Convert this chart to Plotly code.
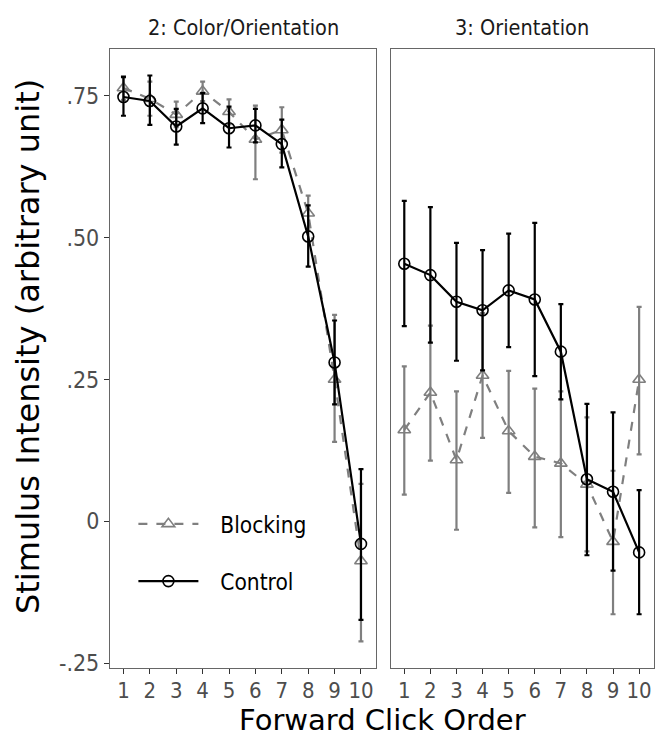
import plotly.graph_objects as go

clicks = list(range(1, 11))
x_tick_labels = [str(c) for c in clicks]
panels = ["2: Color/Orientation", "3: Orientation"]

# Panel 2: Color/Orientation
co_control = [0.748, 0.741, 0.696, 0.728, 0.693, 0.698, 0.665, 0.502, 0.280, -0.040]
co_control_hi = [0.783, 0.786, 0.727, 0.755, 0.731, 0.727, 0.708, 0.557, 0.354, 0.092]
co_control_lo = [0.715, 0.699, 0.664, 0.702, 0.659, 0.668, 0.624, 0.449, 0.206, -0.174]
co_block = [0.764, 0.745, 0.717, 0.758, 0.722, 0.673, 0.690, 0.543, 0.250, -0.070]
co_block_hi = [0.785, 0.775, 0.740, 0.775, 0.744, 0.733, 0.730, 0.574, 0.364, 0.066]
co_block_lo = [0.743, 0.715, 0.695, 0.741, 0.700, 0.603, 0.650, 0.512, 0.140, -0.212]

# Panel 3: Orientation
or_control = [0.454, 0.434, 0.387, 0.372, 0.407, 0.391, 0.299, 0.074, 0.052, -0.055]
or_control_hi = [0.565, 0.554, 0.491, 0.478, 0.507, 0.526, 0.383, 0.207, 0.192, 0.055]
or_control_lo = [0.344, 0.315, 0.283, 0.266, 0.307, 0.256, 0.215, -0.060, -0.087, -0.164]
or_block = [0.161, 0.227, 0.108, 0.257, 0.159, 0.114, 0.102, 0.065, -0.036, 0.250]
or_block_hi = [0.273, 0.345, 0.229, 0.367, 0.265, 0.234, 0.229, 0.183, 0.089, 0.378]
or_block_lo = [0.047, 0.107, -0.015, 0.147, 0.050, -0.011, -0.028, -0.053, -0.164, 0.118]

y_tick_vals = [-0.25, 0, 0.25, 0.50, 0.75]
y_tick_text = ["-.25", "0", ".25", ".50", ".75"]

GREY = "#7f7f7f"
BLACK = "#000000"
FONT = "DejaVu Sans"
CFONT = "DejaVu Sans Condensed, DejaVu Sans"

fig = go.Figure()

def add_series(x, y, hi, lo, xa, ya, name, color, dash, symbol, show):
    fig.add_trace(go.Scatter(
        x=x, y=y, xaxis=xa, yaxis=ya, name="\u00a0\u00a0\u2009" + name, legendgroup=name,
        showlegend=show, mode="lines+markers",
        line=dict(color=color, width=2.2, dash=dash),
        marker=dict(symbol=symbol, size=11, color=color,
                    line=dict(color=color, width=1.6)),
        error_y=dict(type="data", symmetric=False,
                     array=[h - v for h, v in zip(hi, y)],
                     arrayminus=[v - l for v, l in zip(y, lo)],
                     color=color, thickness=2.2, width=2.5),
    ))

add_series(clicks, co_block, co_block_hi, co_block_lo, "x", "y", "Blocking", GREY, "dash", "triangle-up-open", True)
add_series(clicks, co_control, co_control_hi, co_control_lo, "x", "y", "Control", BLACK, "solid", "circle-open", True)
add_series(clicks, or_block, or_block_hi, or_block_lo, "x2", "y2", "Blocking", GREY, "dash", "triangle-up-open", False)
add_series(clicks, or_control, or_control_hi, or_control_lo, "x2", "y2", "Control", BLACK, "solid", "circle-open", False)

xrange = [0.49, 10.57]
yrange = [-0.2588, 0.8327]
axis_common = dict(showgrid=False, zeroline=False, showline=True, mirror=True,
                   linecolor="#666666", linewidth=1.2, ticks="outside",
                   ticklen=5, tickwidth=1.3, tickcolor="#333333")
xtickfont = dict(family=CFONT, size=22, color="#4d4d4d")
ytickfont = dict(family=CFONT, size=23, color="#4d4d4d")

fig.update_layout(
    width=657, height=738,
    margin=dict(l=110, r=3, t=49, b=70),
    plot_bgcolor="white", paper_bgcolor="white",
    font=dict(family=FONT),
    xaxis=dict(domain=[0, 0.489], range=xrange, tickvals=clicks, ticktext=x_tick_labels,
               tickfont=xtickfont, ticklabelstandoff=-3, **axis_common),
    xaxis2=dict(domain=[0.5165, 1], range=xrange, tickvals=clicks, ticktext=x_tick_labels,
                tickfont=xtickfont, ticklabelstandoff=-3, **axis_common),
    yaxis=dict(range=yrange, tickvals=y_tick_vals, ticktext=y_tick_text,
               tickfont=ytickfont, **axis_common),
    yaxis2=dict(range=yrange, anchor="x2", tickvals=y_tick_vals, showticklabels=False,
                ticks="", showgrid=False, zeroline=False, showline=True, mirror=True,
                linecolor="#666666", linewidth=1.2),
    legend=dict(x=0.043, y=0.267, xanchor="left", yanchor="top",
                bgcolor="rgba(0,0,0,0)", font=dict(family=CFONT, size=22.5, color="black"),
                traceorder="grouped", tracegroupgap=25, itemwidth=60),
    showlegend=True,
)

fig.add_annotation(text="Stimulus Intensity (arbitrary unit)", xref="paper", yref="paper",
                   x=0, xshift=-82, y=(668 - 347) / 619, textangle=-90,
                   xanchor="center", yanchor="middle", showarrow=False,
                   font=dict(family=FONT, size=32, color="black"))
fig.add_annotation(text="Forward Click Order", xref="paper", yref="paper",
                   x=0.5, y=0, yshift=-70, yanchor="bottom", showarrow=False, borderpad=0,
                   font=dict(family=FONT, size=29, color="black"))
fig.add_annotation(text=panels[0], xref="x domain", yref="paper", x=0.5, y=1,
                   yanchor="bottom", yshift=7, showarrow=False,
                   font=dict(family=CFONT, size=21.5, color="#1a1a1a"))
fig.add_annotation(text=panels[1], xref="x2 domain", yref="paper", x=0.5, y=1,
                   yanchor="bottom", yshift=7, showarrow=False,
                   font=dict(family=CFONT, size=21.5, color="#1a1a1a"))

fig.write_html("out.html")
